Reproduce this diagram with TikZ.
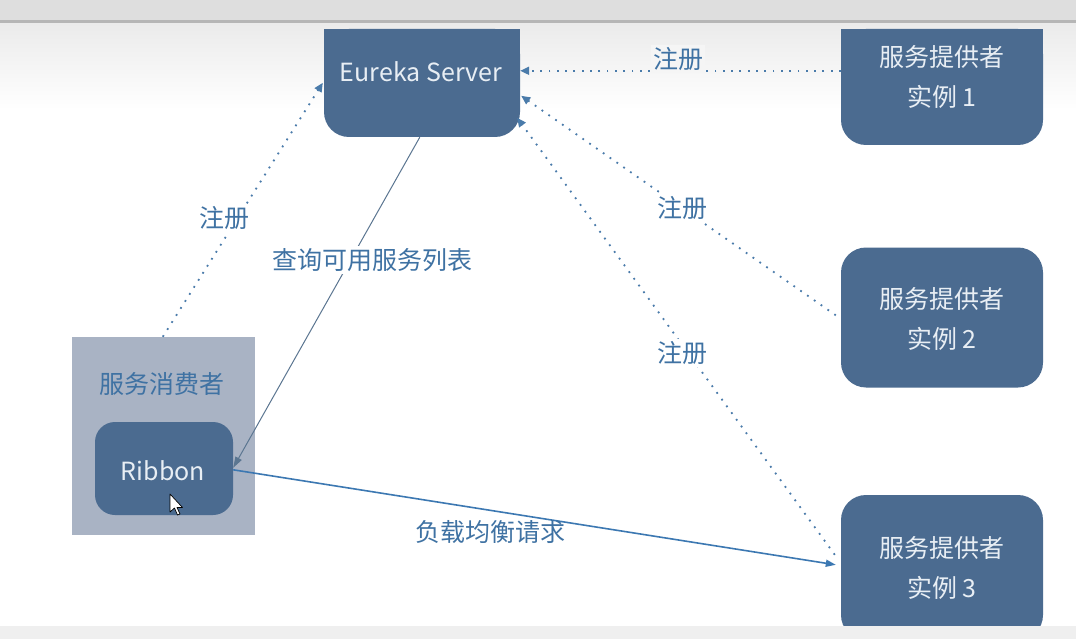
\documentclass[tikz,border=0pt]{standalone}
\usepackage{fontspec}
\newfontfamily\cjk{Noto Sans CJK SC}
\usetikzlibrary{arrows.meta,calc}
\definecolor{boxblue}{HTML}{4B6B90}
\definecolor{boxtext}{HTML}{E8EEF4}
\definecolor{labelblue}{HTML}{3F72A3}
\definecolor{consgray}{HTML}{A9B3C4}
\definecolor{dotblue}{HTML}{4A7BAA}
\definecolor{querycol}{HTML}{5B7691}
\definecolor{loadcol}{HTML}{3C78B2}
\definecolor{topbar}{HTML}{DEDEDE}
\definecolor{topline}{HTML}{B6B6B6}
\definecolor{botbar}{HTML}{EFEFEF}
\begin{document}
\begin{tikzpicture}[x=1pt,y=-1pt,
  box/.style={fill=boxblue, rounded corners=25pt, inner sep=0pt, draw=none},
  boxtxt/.style={text=boxtext, align=center, inner sep=0pt, font=\cjk\fontsize{25}{40}\selectfont},
  lbl/.style={text=labelblue, font=\cjk\fontsize{25}{28}\selectfont, inner sep=2pt, fill=white},
  reg/.style={draw=dotblue, line width=1.8pt, dash pattern=on 1.8pt off 6.5pt, -{Triangle[length=9pt,width=8pt]}},
  query/.style={draw=querycol, line width=1pt, -{Triangle[length=11pt,width=7pt]}},
  load/.style={draw=loadcol, line width=1.6pt, -{Triangle[length=10pt,width=7pt]}}
]
\useasboundingbox (0,0) rectangle (1076,639);
% background
\fill[white] (0,0) rectangle (1076,639);
\fill[topbar] (0,0) rectangle (1076,20);
\shade[top color=black!8, bottom color=white] (0,22) rectangle (1076,110);
\fill[topline] (0,20) rectangle (1076,23);

% consumer
\node[fill=consgray, minimum width=183pt, minimum height=198pt, inner sep=0pt] (cons) at (163.5,436) {};
\node[text=labelblue, font=\cjk\fontsize{25}{28}\selectfont, inner sep=0pt] (constxt) at (162,384) {服务消费者};
\node[box, rounded corners=20pt, minimum width=138pt, minimum height=93pt] (rib) at (164,468.5) {};
\node[boxtxt] (ribtxt) at (163,471) {Ribbon};

% eureka server
\node[box, minimum width=196pt, minimum height=108pt] (eu) at (422,83) {};
\fill[boxblue] (eu.north west) rectangle (eu.east);
\node[boxtxt] (eutxt) at (421,72) {Eureka Server};

% providers
\node[box, minimum width=202pt, minimum height=116pt] (p1) at (942,87) {};
\fill[boxblue] (p1.north west) rectangle (p1.east);
\node[boxtxt] (p1txt) at (942,77) {服务提供者\\实例 1};

\node[box, minimum width=202pt, minimum height=140pt] (p2) at (942,317.5) {};
\node[boxtxt] (p2txt) at (942,319) {服务提供者\\实例 2};

\node[box, minimum width=202pt, minimum height=145pt] (p3) at (942,567.5) {};
\node[boxtxt] (p3txt) at (942,568) {服务提供者\\实例 3};

% endpoint coordinates
\coordinate (p1w) at ($(p1.north west)+(0,42)$);
\coordinate (eu1) at ($(eu.north east)+(0,42)$);
\coordinate (p2w) at ($(p2.north west)+(-5,68)$);
\coordinate (eu2) at ($(eu.north east)+(1,67)$);
\coordinate (p3w) at ($(p3.north west)+(-6,60)$);
\coordinate (eu3) at ($(eu.north east)+(-3,89)$);
\coordinate (consn) at ($(cons.north west)+(91,0)$);
\coordinate (euw) at ($(eu.north west)+(-1,54)$);
\coordinate (eus) at ($(eu.south west)+(96,0)$);
\coordinate (ribq) at ($(rib.north east)+(0,46)$);
\coordinate (ribl) at ($(rib.north east)+(0,48)$);
\coordinate (p3l) at ($(p3.north west)+(-5,70)$);

% connectors
\draw[reg] (p1w) -- (eu1);
\draw[reg] (p2w) -- (eu2);
\draw[reg] (p3w) -- (eu3);
\draw[reg] (consn) -- (euw);
\draw[query] (eus) -- (ribq);
\draw[load] (ribl) -- (p3l);

% labels
\node[lbl, fill=black!4] (l1) at (678,59) {注册};
\node[lbl] (l2) at (682,208) {注册};
\node[lbl] (l3) at (682,353) {注册};
\node[lbl] (l4) at (224,218) {注册};
\node[lbl] (lq) at (372,260) {查询可用服务列表};
\node[lbl, fill=none] (ll) at (490,532) {负载均衡请求};

% bottom bar
\fill[botbar] (0,626) rectangle (1076,639);

% mouse cursor
\filldraw[fill=white, draw=black, line width=0.7pt, line join=round]
  (170,494) -- (170,512) -- (174.5,508) -- (177.5,515) -- (180,514) -- (177,507.5) -- (182.5,507.5) -- cycle;
\end{tikzpicture}
\end{document}
